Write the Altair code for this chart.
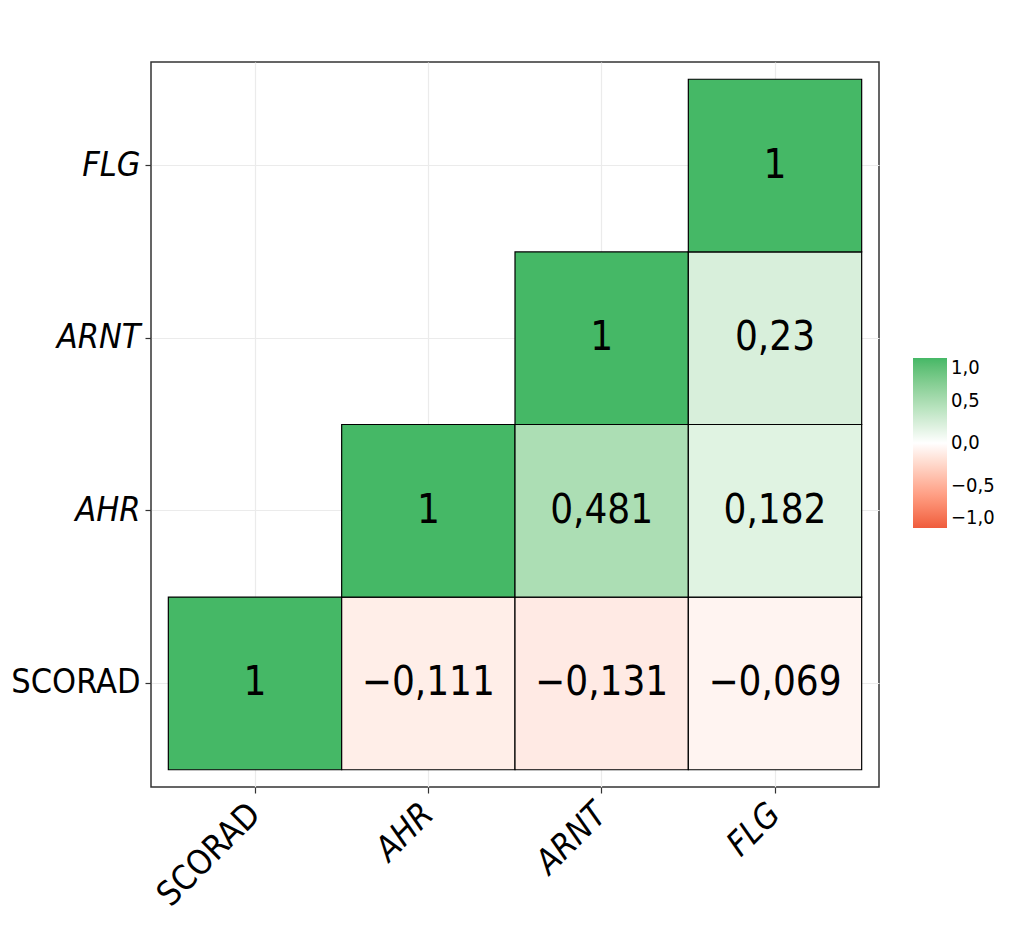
import altair as alt
import pandas as pd

variables = ["SCORAD", "AHR", "ARNT", "FLG"]
row_var = ["SCORAD", "SCORAD", "SCORAD", "SCORAD", "AHR", "AHR", "AHR", "ARNT", "ARNT", "FLG"]
col_var = ["SCORAD", "AHR", "ARNT", "FLG", "AHR", "ARNT", "FLG", "ARNT", "FLG", "FLG"]
corr = [1, -0.111, -0.131, -0.069, 1, 0.481, 0.182, 1, 0.23, 1]
legend_values = [-1.0, -0.5, 0.0, 0.5, 1.0]

labels = [str(v).replace(".", ",").replace("-", "\u2212") for v in corr]
df = pd.DataFrame({"row": row_var, "col": col_var, "value": corr, "label": labels})

FONT = "DejaVu Sans Condensed, Roboto Condensed, Liberation Sans"
style_expr = {"expr": "datum.value == 'SCORAD' ? 'normal' : 'italic'"}

x_enc = alt.X("col:N", sort=variables, title=None,
              scale=alt.Scale(paddingInner=0, paddingOuter=0.1),
              axis=alt.Axis(labelAngle=-45, labelAlign="right", labelBaseline="middle",
                            labelFontSize=34, labelFont=FONT, labelColor="black",
                            labelFontStyle=style_expr, labelPadding=16,
                            grid=True, gridColor="#EBEBEB", gridWidth=1.2,
                            domain=False, tickColor="#333333", tickSize=6,
                            tickWidth=1.2, bandPosition=0.5, zindex=0))
y_enc = alt.Y("row:N", sort=variables[::-1], title=None,
              scale=alt.Scale(paddingInner=0, paddingOuter=0.1),
              axis=alt.Axis(labelFontSize=34, labelFont=FONT, labelColor="black",
                            labelFontStyle=style_expr, labelPadding=5,
                            grid=True, gridColor="#EBEBEB", gridWidth=1.2,
                            domain=False, tickColor="#333333", tickSize=6,
                            tickWidth=1.2, bandPosition=0.5, zindex=0))

color_scale = alt.Scale(domain=[-1, 0, 1], range=["#EF5B3C", "#FFFFFF", "#45B866"],
                        interpolate="lab")

tiles = alt.Chart(df).mark_rect(stroke="black", strokeWidth=1.2).encode(
    x=x_enc,
    y=y_enc,
    color=alt.Color("value:Q", scale=color_scale,
                    legend=alt.Legend(title=None, orient="none", legendX=762, legendY=296,
                                      gradientLength=170, gradientThickness=34,
                                      values=legend_values,
                                      labelExpr="replace(replace(format(datum.value, '.1f'), '.', ','), '-', '\u2212')",
                                      labelFontSize=20, labelFont=FONT, labelColor="black",
                                      labelOffset=4, gradientStrokeWidth=0)),
)

text = alt.Chart(df).mark_text(fontSize=40, font=FONT, color="black").encode(
    x=alt.X("col:N", sort=variables),
    y=alt.Y("row:N", sort=variables[::-1]),
    text="label:N",
)

chart = (tiles + text).properties(
    width=728, height=725,
    background="white",
    autosize=alt.AutoSizeParams(type="none"),
    padding={"left": 143, "top": 54, "right": 120, "bottom": 150},
).configure_view(stroke="#333333", strokeWidth=1.5)

chart.save("out.html", embed_options={"renderer": "svg", "actions": False})
